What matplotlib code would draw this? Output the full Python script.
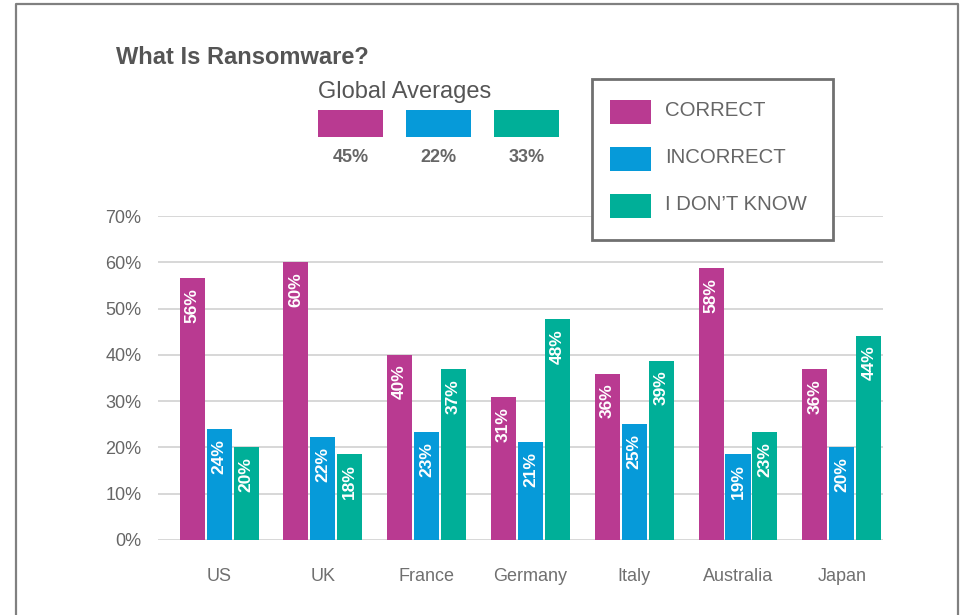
import matplotlib.pyplot as plt
import matplotlib.patches as mpatches
import numpy as np

plt.rcParams['font.family'] = ['Liberation Sans', 'DejaVu Sans']

countries = ['US', 'UK', 'France', 'Germany', 'Italy', 'Australia', 'Japan']
series_names = ['CORRECT', 'INCORRECT', 'I DON\u2019T KNOW']
colors = ['#B93A91', '#069AD9', '#00AF98']

# bar heights, labels as printed
correct = [56.6, 60.0, 40.0, 30.9, 35.9, 58.7, 36.9]
incorrect = [24.0, 22.2, 23.3, 21.2, 25.1, 18.6, 20.1]
dont_know = [20.1, 18.6, 36.9, 47.7, 38.7, 23.3, 44.1]
correct_lbl = [56, 60, 40, 31, 36, 58, 36]
incorrect_lbl = [24, 22, 23, 21, 25, 19, 20]
dont_know_lbl = [20, 18, 37, 48, 39, 23, 44]

global_avg = [45, 22, 33]
yticks = [0, 10, 20, 30, 40, 50, 60, 70]

W, H = 961, 615
fig = plt.figure(figsize=(W / 100, H / 100), dpi=100)

def fx(px):
    return px / W

def fy(py):
    return 1 - py / H

ax = fig.add_axes([fx(158), fy(540), fx(883) - fx(158), fy(216) - fy(540)])

x = np.arange(len(countries))
bw = 0.241
step = 0.26
values = [correct, incorrect, dont_know]
labels = [correct_lbl, incorrect_lbl, dont_know_lbl]
for i, (vals, lbls, c) in enumerate(zip(values, labels, colors)):
    xs = x + (i - 1) * step
    ax.bar(xs, vals, width=bw, color=c, zorder=3)
    for xx, v, l in zip(xs, vals, lbls):
        ax.annotate('%d%%' % l, (xx, v), xytext=(0, -7), textcoords='offset points',
                    rotation=90, ha='center', va='top', color='white',
                    fontsize=12.5, fontweight='bold', zorder=4)

ax.set_xlim(-0.588, 6.397)
ax.set_ylim(0, 70)
ax.set_yticks(yticks)
ax.set_yticklabels(['%d%%' % t for t in yticks])
ax.set_xticks(x)
ax.set_xticklabels(countries)
ax.tick_params(axis='y', length=0, pad=12, labelsize=13, labelcolor='#666666')
ax.tick_params(axis='x', length=0, pad=20, labelsize=13, labelcolor='#707070')
ax.yaxis.grid(True, color='#d4d4d4', linewidth=1.3, zorder=0)
ax.set_axisbelow(True)
for s in ax.spines.values():
    s.set_visible(False)

# outer frame (no bottom edge)
fig.add_artist(plt.Line2D([fx(16), fx(16), fx(958), fx(958)],
                          [0, fy(4), fy(4), 0], color='#808080', lw=1.6))

fig.text(fx(116), fy(57), 'What Is Ransomware?', fontsize=17, fontweight='bold',
         color='#555555', va='center', ha='left')

# global averages
fig.text(fx(318), fy(92), 'Global Averages', fontsize=17, color='#555555',
         va='center', ha='left')
for i, (g, c) in enumerate(zip(global_avg, colors)):
    left = 318 + i * 88
    fig.add_artist(mpatches.Rectangle((fx(left), fy(137)), fx(65), fy(110) - fy(137),
                                      facecolor=c, edgecolor='none', transform=fig.transFigure))
    fig.text(fx(left + 32.5), fy(158), '%d%%' % g, fontsize=13, fontweight='bold',
             color='#666666', ha='center', va='center')

# legend box
fig.add_artist(mpatches.Rectangle((fx(592), fy(240)), fx(833) - fx(592), fy(79) - fy(240),
                                  facecolor='white', edgecolor='#707070', lw=2,
                                  transform=fig.transFigure, zorder=5))
for i, (name, c) in enumerate(zip(series_names, colors)):
    top = 100 + i * 47
    fig.add_artist(mpatches.Rectangle((fx(610), fy(top + 24)), fx(41), fy(top) - fy(top + 24),
                                      facecolor=c, edgecolor='none',
                                      transform=fig.transFigure, zorder=6))
    fig.text(fx(665), fy(top + 11), name, fontsize=14.7, color='#666666',
             ha='left', va='center', zorder=6)

fig.savefig('out.png', dpi=100)
